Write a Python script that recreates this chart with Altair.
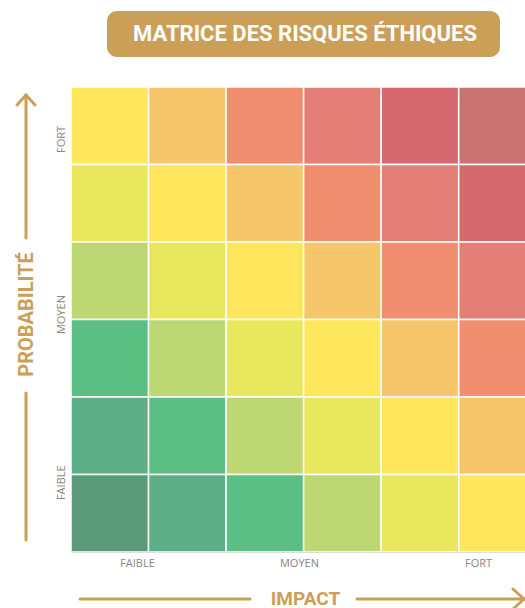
import altair as alt
import pandas as pd

# ---------------- data ----------------
title_text = "MATRICE DES RISQUES ÉTHIQUES"
x_title = "IMPACT"
y_title = "PROBABILITÉ"

impact_labels = ["FAIBLE", "MOYEN", "FORT"]
impact_label_pos = [0.85, 2.94, 5.25]
prob_labels = ["FAIBLE", "MOYEN", "FORT"]
prob_label_pos = [0.9, 3.07, 5.33]

# risk level of each cell; rows listed from top (forte probabilité) to bottom,
# columns from left (faible impact) to right (fort impact)
risk_grid = [
    [5, 6, 7, 8, 9, 10],
    [4, 5, 6, 7, 8, 9],
    [3, 4, 5, 6, 7, 8],
    [2, 3, 4, 5, 6, 7],
    [1, 2, 3, 4, 5, 6],
    [0, 1, 2, 3, 4, 5],
]
level_colors = [
    "#5C9A7C", "#5BAE86", "#5BBE82", "#BDD873", "#E8E75E", "#FEE75C",
    "#F6C66A", "#F08E6F", "#E47F78", "#D5696F", "#CA7471",
]

# ---------------- build table ----------------
n = len(risk_grid)
rows = []
for r_top, row in enumerate(risk_grid):
    p = n - 1 - r_top
    for c, lvl in enumerate(row):
        rows.append({"impact": c, "impact_end": c + 1,
                     "prob": p, "prob_end": p + 1, "level": lvl})
df = pd.DataFrame(rows)
one = pd.DataFrame({"k": [0]})

GOLD = "#CB9F57"
LABEL = "#8C857E"
W, H = 454, 465
X_MAX = 5.855


def label_expr(pos, labels):
    expr = f"'{labels[-1]}'"
    for i in range(len(labels) - 2, -1, -1):
        mid = (pos[i] + pos[i + 1]) / 2
        expr = f"datum.value < {mid} ? '{labels[i]}' : ({expr})"
    return expr


cells = alt.Chart(df).mark_rect(stroke="white", strokeWidth=1.5, clip=True).encode(
    x=alt.X("impact:Q",
            scale=alt.Scale(domain=[0, X_MAX], nice=False, zero=False),
            axis=alt.Axis(values=impact_label_pos,
                          labelExpr=label_expr(impact_label_pos, impact_labels),
                          ticks=False, grid=False, domain=True,
                          domainColor="#dddddd", domainWidth=1,
                          labelFont="Open Sans", labelFontSize=11,
                          labelColor=LABEL, labelPadding=5,
                          labelFlush=False, labelOverlap=False,
                          title=x_title, titleFont="Roboto",
                          titleFontWeight="bold", titleFontSize=19,
                          titleColor=GOLD, titleX=234, titleY=46,
                          titleAlign="center", titleBaseline="middle")),
    x2="impact_end",
    y=alt.Y("prob:Q",
            scale=alt.Scale(domain=[0, n], nice=False, zero=False),
            axis=alt.Axis(values=prob_label_pos,
                          labelExpr=label_expr(prob_label_pos, prob_labels),
                          ticks=False, grid=False, domain=False,
                          labelAngle=270, labelAlign="center",
                          labelBaseline="bottom",
                          labelFont="Open Sans", labelFontSize=11,
                          labelColor=LABEL, labelPadding=5,
                          labelFlush=False, labelOverlap=False,
                          title=y_title, titleFont="Roboto",
                          titleFontWeight="bold", titleFontSize=20,
                          titleColor=GOLD, titleAngle=270,
                          titleX=-45, titleY=227,
                          titleAlign="center", titleBaseline="middle")),
    y2="prob_end",
    color=alt.Color("level:O",
                    scale=alt.Scale(domain=list(range(len(level_colors))),
                                    range=level_colors),
                    legend=None),
)

title_box = alt.Chart(one).mark_rect(color=GOLD, cornerRadius=10).encode(
    x=alt.value(36), x2=alt.value(429), y=alt.value(-76), y2=alt.value(-30)
)
title_mark = alt.Chart(one).mark_text(
    text=title_text, font="Roboto", fontWeight="bold", fontSize=22,
    color="white", align="center", baseline="middle"
).encode(x=alt.value(234), y=alt.value(-53))


def seg(x1, y1, x2, y2):
    return alt.Chart(one).mark_rule(color=GOLD, strokeWidth=3, strokeCap="round").encode(
        x=alt.value(x1), y=alt.value(y1), x2=alt.value(x2), y2=alt.value(y2)
    )


XY = H + 47  # vertical position of the impact arrow
arrows = [
    # vertical (probabilité)
    seg(-45, 8, -45, 151),
    seg(-45, 306, -45, 453),
    seg(-54, 18, -45, 8),
    seg(-36, 18, -45, 8),
    # horizontal (impact)
    seg(9, XY, 179, XY),
    seg(286, XY, 453, XY),
    seg(442, XY - 10, 453, XY),
    seg(442, XY + 10, 453, XY),
]

chart = alt.layer(title_box, title_mark, cells, *arrows).properties(
    width=W, height=H,
    autosize=alt.AutoSizeParams(type="none"),
    padding={"left": 71, "top": 87, "right": 0, "bottom": 56},
    background="white",
).configure_view(strokeWidth=0)

chart.save("out.html", embed_options={"renderer": "svg", "actions": False})
